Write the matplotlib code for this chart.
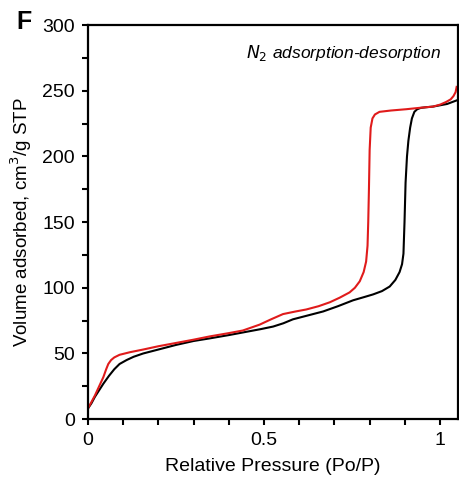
import numpy as np
import matplotlib
matplotlib.use("Agg")
import matplotlib.pyplot as plt
from matplotlib.ticker import MultipleLocator

plt.rcParams['font.family'] = ['Liberation Sans', 'DejaVu Sans']

# adsorption branch (black)
ads_x = [0, 0.01, 0.02, 0.032, 0.044, 0.06, 0.075, 0.09, 0.11, 0.13, 0.157, 0.2,
         0.25, 0.3, 0.346, 0.4, 0.44, 0.49, 0.526, 0.555, 0.582, 0.625, 0.668,
         0.71, 0.753, 0.785, 0.81, 0.835, 0.857, 0.873, 0.885, 0.892, 0.896,
         0.899, 0.902, 0.906, 0.91, 0.915, 0.92, 0.927, 0.935, 0.945, 0.96,
         0.98, 1.0, 1.02, 1.035, 1.05]
ads_y = [8, 12, 17, 22, 27, 33, 38, 42, 45, 47.5, 50, 53,
         56.5, 59.5, 61.5, 64, 66, 68.5, 70.5, 73, 76, 79, 82,
         86, 90.5, 93, 95, 97.5, 101, 106, 112, 118, 126,
         150, 180, 200, 212, 222, 229, 234, 236, 237, 237.5,
         238, 239, 240, 241.5, 243]

# desorption branch (red)
des_x = [0, 0.01, 0.02, 0.032, 0.044, 0.052, 0.058, 0.066, 0.075, 0.09, 0.12,
         0.157, 0.2, 0.25, 0.3, 0.346, 0.4, 0.44, 0.488, 0.52, 0.554, 0.59,
         0.62, 0.655, 0.687, 0.715, 0.743, 0.758, 0.772, 0.783, 0.79, 0.794,
         0.796, 0.798, 0.8, 0.803, 0.808, 0.815, 0.828, 0.86, 0.904, 0.94,
         0.98, 1.0, 1.017, 1.03, 1.038, 1.044, 1.047]
des_y = [8, 13, 18, 25, 32, 38, 42, 45, 47, 49, 51,
         53, 55.5, 58, 60.5, 63, 65.5, 67.5, 72, 76, 80, 82,
         83.5, 86, 89, 92.5, 96.5, 100, 105, 112, 120, 132,
         150, 175, 205, 222, 229, 232, 234, 235, 236, 237,
         238, 239.5, 241.5, 243.5, 246, 249, 253]

fig = plt.figure(figsize=(4.6, 4.84), dpi=100)
ax = fig.add_axes([0.191, 0.134, 0.804, 0.814])

ax.plot(ads_x, ads_y, color='black', lw=1.5)
ax.plot(des_x, des_y, color='#e01b1b', lw=1.5)

ax.set_xlim(0, 1.05)
ax.set_ylim(0, 300)
ax.set_xticks([0, 0.5, 1])
ax.set_xticklabels(['0', '0.5', '1'])
ax.xaxis.set_minor_locator(MultipleLocator(0.1))
ax.yaxis.set_major_locator(MultipleLocator(50))
ax.yaxis.set_minor_locator(MultipleLocator(25))
ax.tick_params(which='both', direction='out', width=1.5, length=4.5,
               labelsize=14, colors='black', pad=5)
for s in ax.spines.values():
    s.set_linewidth(1.6)

ax.set_xlabel('Relative Pressure (Po/P)', fontsize=14, labelpad=6)
ax.set_ylabel('Volume adsorbed, cm$^3$/g STP', fontsize=13.5, labelpad=6)

ax.text(0.955, 0.955, '$N_2$ adsorption-desorption', transform=ax.transAxes,
        ha='right', va='top', fontsize=12.5, style='italic')
fig.text(0.035, 0.98, 'F', fontsize=18, fontweight='bold', va='top')

fig.savefig('out.png', dpi=100)
